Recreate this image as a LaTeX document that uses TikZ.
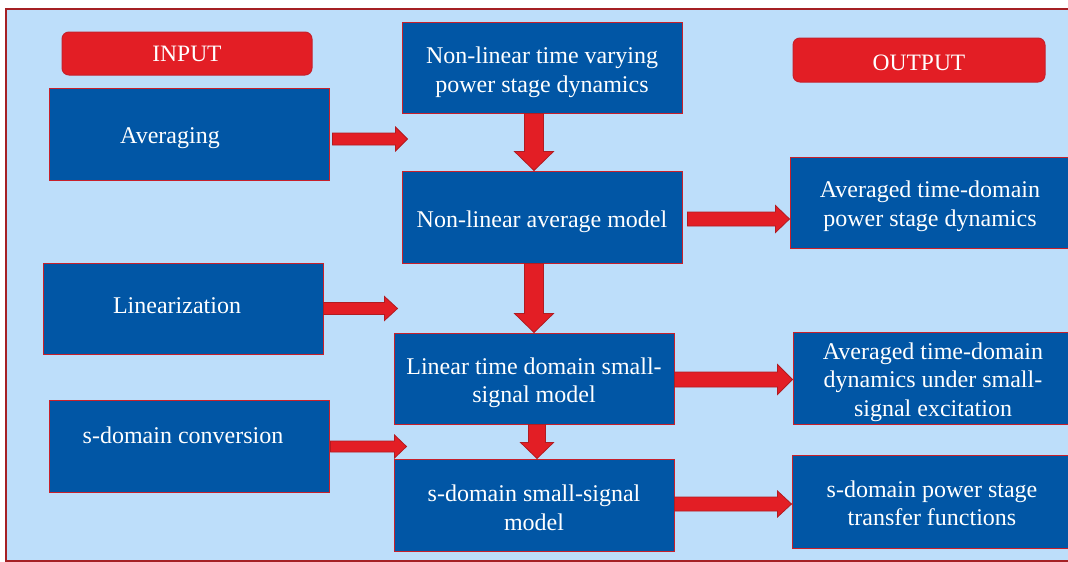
\documentclass[tikz,border=0pt]{standalone}
\usepackage{fontspec}
\setmainfont{Liberation Serif}
\usetikzlibrary{calc}
\definecolor{bgblue}{HTML}{BDDEFA}
\definecolor{boxblue}{HTML}{0156A5}
\definecolor{arrowred}{HTML}{E31E25}
\definecolor{arrowline}{HTML}{B01C22}
\definecolor{boxline}{HTML}{C8202A}
\definecolor{framered}{HTML}{A52024}
\newcommand\blockarrow[5]{%
  \path ($(#2)!#5!(#1)$) coordinate (bah);
  \filldraw[barrow] ($(#1)!#3!90:(#2)$) -- ($(bah)!#3!90:(#2)$) -- ($(bah)!#4!90:(#2)$) -- (#2)
    -- ($(bah)!#4!-90:(#2)$) -- ($(bah)!#3!-90:(#2)$) -- ($(#1)!#3!-90:(#2)$) -- cycle;
}
\begin{document}
\begin{tikzpicture}[x=1pt,y=-1pt,
  txt/.style={text=white, align=center, inner sep=0pt,
    font=\fontsize{24}{28.5}\selectfont},
  box/.style={draw=boxline, fill=boxblue, line width=1pt, minimum width=280pt,
    minimum height=91pt, inner sep=0pt},
  tag/.style={draw=boxline, fill=arrowred, line width=1pt, rounded corners=7pt,
    inner sep=0pt, text=white, font=\fontsize{23.5}{28}\selectfont},
  barrow/.style={fill=arrowred, draw=arrowline, line width=0.8pt, line join=miter}]
\useasboundingbox (0,0) rectangle (1068,562);
\clip (0,0) rectangle (1068,562);
\fill[white] (0,0) rectangle (1068,562);
\filldraw[draw=framered, fill=bgblue, line width=2pt] (6,9) rectangle (1090,561);

% tags
\node[tag, minimum width=250pt, minimum height=43pt] (inp) at (187,53.5) {INPUT};
\node[tag, minimum width=252pt, minimum height=44pt,
  label={[txt, font=\fontsize{23.5}{28}\selectfont, shift={(0,3)}]center:OUTPUT}] (outp) at (919,60) {};

% input boxes
\node[box, minimum height=92pt, label={[txt, shift={(-19,4)}]center:Averaging}] (avg) at (189,134) {};
\node[box, label={[txt, shift={(-6,-3)}]center:Linearization}] (lin) at (183,308.5) {};
\node[box, minimum height=92pt, label={[txt, shift={(-6,-11)}]center:s-domain conversion}] (sconv) at (189,446) {};

% main column
\node[box, label={[txt, shift={(0,5)}]center:{Non-linear time varying\\power stage dynamics}}] (b1) at (542,67.5) {};
\node[box, minimum height=92pt, label={[txt, shift={(0,5)}]center:Non-linear average model}] (b2) at (542,217) {};
\node[box, label={[txt, shift={(0,4.5)}]center:{Linear time domain small-\\signal model}}] (b3) at (534,378.5) {};
\node[box, minimum height=92pt, label={[txt, shift={(0,3)}]center:{s-domain small-signal\\model}}] (b4) at (534,505) {};

% output boxes
\node[box, label={[txt, shift={(0,4)}]center:{Averaged time-domain\\power stage dynamics}}] (o1) at (930,202.5) {};
\node[box, minimum height=92pt, label={[txt, shift={(0,4)}]center:{Averaged time-domain\\dynamics under small-\\signal excitation}}] (o2) at (933,378) {};
\node[box, minimum height=93pt, label={[txt, shift={(0,2)}]center:{s-domain power stage\\transfer functions}}] (o3) at (932,501.5) {};

% vertical arrows
\coordinate (v1s) at (b1.south -| b3.north);
\coordinate (v1e) at (b2.north -| b3.north);
\coordinate (v2s) at (b2.south -| b3.north);
\blockarrow{v1s}{v1e}{9.5pt}{19.5pt}{19pt}
\blockarrow{v2s}{b3.north}{9.5pt}{19.5pt}{19pt}
\coordinate (v3s) at ($(b3.south)+(3,0)$);
\coordinate (v3e) at ($(b4.north)+(3,0)$);
\blockarrow{v3s}{v3e}{8.5pt}{16.5pt}{16pt}

% output arrows
\coordinate (h1s) at ($(b2.east)+(5,2)$);
\coordinate (h1e) at (o1.west |- h1s);
\blockarrow{h1s}{h1e}{7pt}{13.5pt}{14pt}
\coordinate (h2s) at ($(b3.east)+(0,1)$);
\coordinate (h2e) at (o2.west |- h2s);
\blockarrow{h2s}{h2e}{7.5pt}{15pt}{15pt}
\coordinate (h3s) at ($(b4.east)+(0,-1)$);
\coordinate (h3e) at (o3.west |- h3s);
\blockarrow{h3s}{h3e}{7pt}{13pt}{14pt}

% input arrows
\coordinate (i1s) at ($(avg.east)+(3,5)$);
\coordinate (i1e) at ($(i1s)+(75,0)$);
\blockarrow{i1s}{i1e}{6pt}{12pt}{12pt}
\coordinate (i2s) at (lin.east);
\coordinate (i2e) at ($(i2s)+(74,0)$);
\blockarrow{i2s}{i2e}{6pt}{12pt}{13pt}
\coordinate (i3s) at ($(sconv.east)+(1,0.5)$);
\coordinate (i3e) at ($(i3s)+(76,0)$);
\blockarrow{i3s}{i3e}{5.5pt}{11.5pt}{12pt}
\end{tikzpicture}
\end{document}
